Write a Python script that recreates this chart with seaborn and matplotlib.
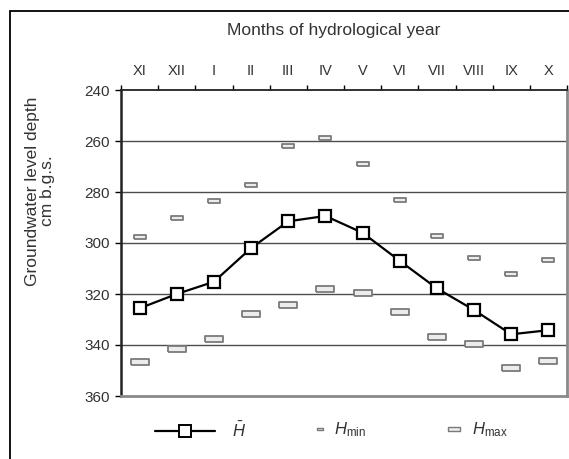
"""Groundwater level depth by month of the hydrological year."""

import numpy as np
import pandas as pd
import matplotlib
matplotlib.use("Agg")
import matplotlib.pyplot as plt
from matplotlib.lines import Line2D
from matplotlib.patches import Rectangle
import seaborn as sns

# data (cm below ground surface)
months = ["XI", "XII", "I", "II", "III", "IV", "V", "VI", "VII", "VIII", "IX", "X"]
h_mean = [325.6, 320.0, 315.2, 302.0, 291.5, 289.4, 296.0, 307.0, 317.8, 326.3, 335.8, 334.2]
h_min = [297.6, 290.0, 283.7, 277.1, 262.0, 259.0, 269.0, 283.1, 297.1, 305.7, 312.3, 306.8]
h_max = [346.5, 341.4, 337.5, 327.8, 324.3, 317.9, 319.7, 326.9, 337.0, 339.5, 349.0, 346.4]
y_ticks = [240, 260, 280, 300, 320, 340, 360]

df = pd.DataFrame({"month": months, "mean": h_mean, "hmin": h_min, "hmax": h_max})

sns.set_style("white")
plt.rcParams["font.family"] = ["Liberation Sans", "DejaVu Sans"]
plt.rcParams["mathtext.fontset"] = "custom"
plt.rcParams["mathtext.it"] = "Liberation Sans:italic"
plt.rcParams["mathtext.rm"] = "Liberation Sans"
txt = "#333333"

fig = plt.figure(figsize=(5.69, 4.59), dpi=100)
ax = fig.add_axes([121 / 569, 1 - 396 / 459, 446 / 569, 306 / 459])

# flat rectangular marker for min / max
bar = [(-1, -0.3), (1, -0.3), (1, 0.3), (-1, 0.3), (-1, -0.3)]
mk = dict(ls="", marker=bar, markerfacecolor="#ececec", markeredgecolor="#7a7a7a",
          markeredgewidth=1.3, zorder=3)

sns.lineplot(data=df, x="month", y="hmin", ax=ax, markersize=8.5, **mk)
sns.lineplot(data=df, x="month", y="hmax", ax=ax, markersize=12.5, **mk)
sns.lineplot(data=df, x="month", y="mean", ax=ax, color="black", lw=1.6,
             marker="s", markersize=8.5, markerfacecolor="white",
             markeredgecolor="black", markeredgewidth=1.6, zorder=4)

ax.set_xlim(-0.5, len(months) - 0.5)
ax.set_ylim(360, 240)
ax.set_yticks(y_ticks)
ax.set_xlabel("")
ax.set_ylabel("")

# month labels on top, ticks between months
ax.xaxis.tick_top()
ax.set_xticks(np.arange(len(months)))
ax.set_xticklabels(months)
ax.set_xticks(np.arange(len(months) + 1) - 0.5, minor=True)
ax.tick_params(axis="x", which="major", length=0, pad=9, labelsize=10.5, labelcolor=txt)
ax.tick_params(axis="x", which="minor", length=3.5, width=1, color="black", direction="out", top=True)
ax.tick_params(axis="y", length=4, width=1, color="black", direction="out", left=True,
               pad=4, labelsize=11, labelcolor=txt)

ax.grid(False)
for yv in y_ticks[1:-1]:
    ax.axhline(yv, color="#4d4d4d", lw=1, zorder=1)

ax.spines["left"].set_color("#222222")
ax.spines["left"].set_linewidth(1.8)
ax.spines["top"].set_color("#222222")
ax.spines["top"].set_linewidth(1.3)
for s in ["right", "bottom"]:
    ax.spines[s].set_color("#8a8a8a")
    ax.spines[s].set_linewidth(2)

fig.text(334 / 569, 1 - 30 / 459, "Months of hydrological year", ha="center", va="center",
         fontsize=12.5, color=txt)
fig.text(40 / 569, 1 - 191 / 459, "Groundwater level depth\ncm b.g.s.", rotation=90,
         ha="center", va="center", multialignment="center", fontsize=12.5,
         color=txt, linespacing=1.05)

# legend: one small legend per entry so each handle keeps its own length
leg_mean = Line2D([], [], color="black", lw=1.6, marker="s", markersize=8.5,
                  markerfacecolor="white", markeredgecolor="black", markeredgewidth=1.4)
leg_min = Line2D([], [], ls="", marker=bar, markersize=5, markerfacecolor="#ececec",
                 markeredgecolor="#7a7a7a", markeredgewidth=1)
leg_max = Line2D([], [], ls="", marker=bar, markersize=8, markerfacecolor="#ececec",
                 markeredgecolor="#7a7a7a", markeredgewidth=1)
entries = [
    (leg_mean, r"$\bar{H}$", 155, 3.6, 1.0),
    (leg_min, r"$H_{\mathrm{min}}$", 312, 1.0, 0.3),
    (leg_max, r"$H_{\mathrm{max}}$", 442, 1.5, 0.3),
]
for h, lab, x0, hl, pad in entries:
    fig.legend([h], [lab], loc="center left", bbox_to_anchor=(x0 / 569, 1 - 430 / 459),
               frameon=False, fontsize=12, handlelength=hl, handletextpad=pad,
               borderpad=0, borderaxespad=0, labelcolor=txt)

# outer frame of the figure
fig.patches.append(Rectangle((10 / 569, -0.1), 1.2, 1 - 11 / 459 + 0.1,
                             transform=fig.transFigure, fill=False,
                             edgecolor="black", lw=1.3))

fig.savefig("out.png", dpi=100)
